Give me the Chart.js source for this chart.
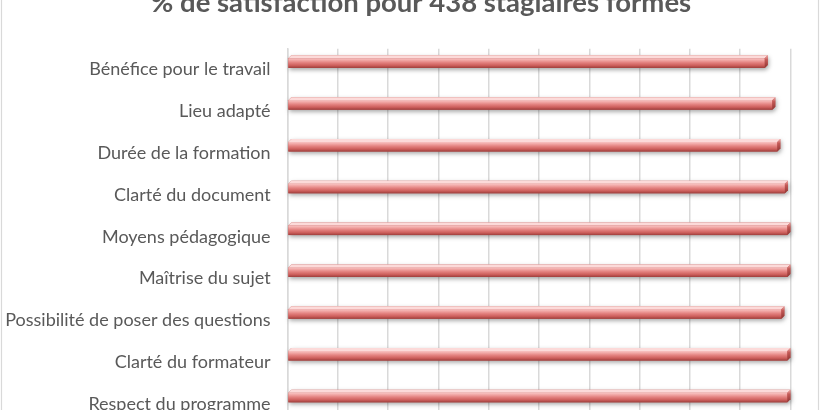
<!DOCTYPE html>
<html>
<head>
<meta charset="utf-8">
<script src="https://cdn.jsdelivr.net/npm/chart.js@4/dist/chart.umd.min.js"></script>
<style>
  html, body { margin: 0; padding: 0; background: #fff; overflow: hidden; }
  #wrap { position: absolute; left: 0; top: -20px; width: 820px; height: 480px; }
</style>
</head>
<body>
<div id="wrap"><canvas id="c" width="820" height="480"></canvas></div>
<script>
// Critères évalués (de haut en bas)
const categories = [
  "Bénéfice pour le travail",
  "Lieu adapté",
  "Durée de la formation",
  "Clarté du document",
  "Moyens pédagogique",
  "Maîtrise du sujet",
  "Possibilité de poser des questions",
  "Clarté du formateur",
  "Respect du programme"
];
// % de stagiaires satisfaits
const satisfaction = [95.5, 97.0, 98.0, 99.5, 100, 100, 98.8, 100, 100];
// Graduations de l'axe des valeurs
const tickValues = [0, 10, 20, 30, 40, 50, 60, 70, 80, 90, 100];
const titleText = "% de satisfaction pour 438 stagiaires formés";

const GREY_TEXT = "#595959";
const GRID = "#d9d9d9";

// Cadre du graphique + titre
const framePlugin = {
  id: "frame",
  beforeDraw(chart) {
    const ctx = chart.ctx;
    ctx.save();
    ctx.fillStyle = "#fff";
    ctx.fillRect(0, 0, chart.width, chart.height);
    ctx.strokeStyle = GRID;
    ctx.lineWidth = 1.2;
    ctx.strokeRect(1.5, 2, chart.width - 3, chart.height + 20);
    ctx.restore();
  },
  afterDraw(chart) {
    const ctx = chart.ctx;
    ctx.save();
    ctx.font = "bold 27.5px Lato, 'DejaVu Sans', sans-serif";
    ctx.fillStyle = GREY_TEXT;
    ctx.textAlign = "center";
    ctx.textBaseline = "alphabetic";
    ctx.fillText(titleText, 421, 31.5);
    ctx.restore();
  }
};

// Barres en relief (cylindre biseauté) dessinées à partir des éléments du graphique
const bar3dPlugin = {
  id: "bar3d",
  afterDatasetsDraw(chart) {
    const ctx = chart.ctx;
    const meta = chart.getDatasetMeta(0);
    const d = 3;          // profondeur du relief
    const lift = 8;       // décalage vers l'avant de la scène 3D
    meta.data.forEach((el) => {
      const x0 = el.base;
      const x1 = el.x;
      const h = el.height;
      const yt = el.y - lift - h / 2;
      const yb = el.y - lift + h / 2;

      ctx.save();
      // ombre portée
      ctx.shadowColor = "rgba(0,0,0,0.35)";
      ctx.shadowBlur = 4;
      ctx.shadowOffsetX = 1;
      ctx.shadowOffsetY = 2;
      ctx.fillStyle = "#c0504d";
      ctx.beginPath();
      ctx.moveTo(x0, yt + d);
      ctx.lineTo(x0 + d, yt);
      ctx.lineTo(x1, yt);
      ctx.lineTo(x1, yb - d);
      ctx.lineTo(x1 - d, yb);
      ctx.lineTo(x0, yb);
      ctx.closePath();
      ctx.fill();
      ctx.restore();

      // face avant
      const g = ctx.createLinearGradient(0, yt + d, 0, yb);
      g.addColorStop(0, "#f8c4c3");
      g.addColorStop(0.2, "#f1a7a5");
      g.addColorStop(0.45, "#e3817f");
      g.addColorStop(0.75, "#cc5e5b");
      g.addColorStop(1, "#9d3e3c");
      ctx.fillStyle = g;
      ctx.fillRect(x0, yt + d, x1 - d - x0, yb - yt - d);

      // face supérieure
      ctx.fillStyle = "#fcdad9";
      ctx.beginPath();
      ctx.moveTo(x0, yt + d);
      ctx.lineTo(x0 + d, yt);
      ctx.lineTo(x1, yt);
      ctx.lineTo(x1 - d, yt + d);
      ctx.closePath();
      ctx.fill();

      // face latérale
      const gs = ctx.createLinearGradient(0, yt, 0, yb);
      gs.addColorStop(0, "#f3b0ae");
      gs.addColorStop(0.35, "#c45a57");
      gs.addColorStop(1, "#8e3533");
      ctx.fillStyle = gs;
      ctx.beginPath();
      ctx.moveTo(x1 - d, yt + d);
      ctx.lineTo(x1, yt);
      ctx.lineTo(x1, yb - d);
      ctx.lineTo(x1 - d, yb);
      ctx.closePath();
      ctx.fill();
    });
  }
};

new Chart(document.getElementById("c"), {
  type: "bar",
  data: {
    labels: categories,
    datasets: [{
      label: "% de satisfaction",
      data: satisfaction,
      backgroundColor: "rgba(0,0,0,0)",
      borderWidth: 0,
      barPercentage: 0.3,
      categoryPercentage: 1
    }]
  },
  options: {
    indexAxis: "y",
    responsive: false,
    animation: false,
    devicePixelRatio: 1,
    layout: { padding: { top: 68.7, right: 28.3, bottom: 0, left: 0 } },
    plugins: {
      legend: { display: false },
      title: { display: false },
      tooltip: { enabled: false }
    },
    scales: {
      x: {
        min: 0,
        max: 100,
        afterBuildTicks(scale) { scale.ticks = tickValues.map(v => ({ value: v })); },
        afterFit(scale) { scale.height = 35; },
        grid: { color: GRID, lineWidth: 1.5, drawTicks: false },
        border: { color: GRID, width: 1.5 },
        ticks: {
          padding: 8,
          color: GREY_TEXT,
          font: { family: "Lato", size: 17 },
          callback: (v) => v + "%"
        }
      },
      y: {
        afterFit(scale) { scale.width = 287.6; },
        grid: { display: false, drawTicks: false },
        border: { color: GRID, width: 1.5 },
        ticks: {
          padding: 17,
          color: GREY_TEXT,
          font: { family: "Lato", size: 18 },
          autoSkip: false
        }
      }
    }
  },
  plugins: [framePlugin, bar3dPlugin]
});
</script>
</body>
</html>
